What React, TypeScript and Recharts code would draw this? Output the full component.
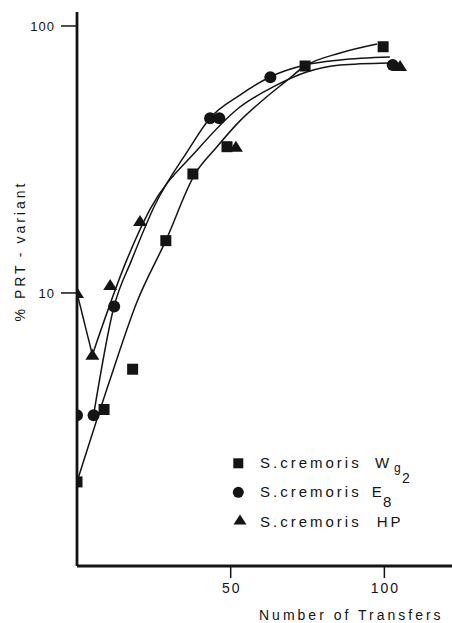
import React from "react";
import { ComposedChart, Line, Scatter, XAxis, YAxis, Legend, Label } from "recharts";

const INK = "#141414";
const FONT = '"Liberation Sans", Arial, Helvetica, sans-serif';

// ─── Measured points: number of transfers vs % PRT- variant ──────────────────
const wg2Transfers = [0, 8.8, 18.1, 28.9, 37.7, 48.8, 74.2, 99.6];
const wg2Variant = [1.96, 3.66, 5.18, 15.7, 27.9, 35.3, 70.8, 83.6];

const e8Transfers = [0, 5.4, 12.1, 43.3, 46.3, 62.9, 102.7];
const e8Variant = [3.48, 3.48, 8.9, 45.1, 45.1, 64.3, 71.4];

const hpTransfers = [0, 5.0, 10.8, 20.5, 51.7, 105.1];
const hpVariant = [10, 5.87, 10.7, 18.6, 35.3, 70.8];

// ─── Hand-fitted curves through each strain ──────────────────────────────────
const wg2CurveX = [0, 10.7, 19.5, 29.0, 38.4, 45.2, 53.0, 60.5, 67.7, 74.2, 85.6, 97.6];
const wg2CurveY = [1.96, 4.72, 9.25, 15.8, 27.9, 34.9, 44.1, 52.8, 61.7, 70.8, 79.2, 85.6];

const e8CurveX = [5.4, 12.0, 17.8, 25.4, 36.2, 43.3, 53.0, 62.8, 74.2, 85.6, 101.8];
const e8CurveY = [3.49, 8.86, 13.3, 21.4, 34.3, 45.2, 55.1, 64.4, 71.4, 74.6, 76.5];

const hpCurveX = [0, 5.0, 16.2, 23.7, 39.1, 53.0, 63.8, 74.7, 85.6, 101.2];
const hpCurveY = [10, 5.86, 13.3, 20.5, 34.3, 49.7, 59.1, 67.2, 71.4, 72.7];

const xTicks = [50, 100];
const yTicks = [10, 100];

const toPoints = (xs: number[], ys: number[]) => xs.map((x, i) => ({ x, y: ys[i] }));

const wg2Points = toPoints(wg2Transfers, wg2Variant);
const e8Points = toPoints(e8Transfers, e8Variant);
const hpPoints = toPoints(hpTransfers, hpVariant);

const wg2Curve = toPoints(wg2CurveX, wg2CurveY);
const e8Curve = toPoints(e8CurveX, e8CurveY);
const hpCurve = toPoints(hpCurveX, hpCurveY);
// HP drops straight to its minimum, then rises smoothly
const hpDrop = hpCurve.slice(0, 2);
const hpRise = hpCurve.slice(1);

// ─── Marker shapes ───────────────────────────────────────────────────────────
const SquareMark = ({ cx, cy }: any) => (
  <rect x={cx - 5.5} y={cy - 5.5} width={11} height={11} fill={INK} />
);
const CircleMark = ({ cx, cy }: any) => <circle cx={cx} cy={cy} r={6} fill={INK} />;
const TriangleMark = ({ cx, cy }: any) => (
  <polygon
    points={`${cx},${cy - 6} ${cx + 7},${cy + 5} ${cx - 7},${cy + 5}`}
    fill={INK}
  />
);

// ─── Axis ticks ──────────────────────────────────────────────────────────────
const YTick = ({ x, y, payload }: any) => (
  <text
    x={x}
    y={y}
    dy="0.36em"
    textAnchor="end"
    fontFamily={FONT}
    fontSize={13}
    letterSpacing={1}
    fill={INK}
  >
    {payload.value}
  </text>
);

const XTick = ({ x, y, payload }: any) => (
  <text
    x={x + 1}
    y={y}
    dy="0.71em"
    textAnchor="middle"
    fontFamily={FONT}
    fontSize={14}
    letterSpacing={2}
    fill={INK}
  >
    {payload.value}
  </text>
);

// ─── Legend ──────────────────────────────────────────────────────────────────
function StrainLegend() {
  return (
    <svg width={210} height={90} style={{ display: "block", overflow: "visible" }}>
      <g fill={INK}>
        <rect x={7.3} y={10.3} width={10} height={10} />
        <circle cx={12.3} cy={44.3} r={5.5} />
        <polygon points="14,66.5 20.5,76.5 7.5,76.5" />
      </g>
      <g fontFamily={FONT} fontSize={15} letterSpacing={3} fill={INK}>
        <text x={34} y={20.3}>
          S.cremoris
          <tspan x={149}>W</tspan>
          <tspan x={168} dy={3.5} fontSize={12} letterSpacing={0}>
            g
          </tspan>
          <tspan x={176} dy={11} fontSize={14} letterSpacing={0}>
            2
          </tspan>
        </text>
        <text x={34} y={49.3}>
          S.cremoris
          <tspan x={145.7}>E</tspan>
          <tspan x={157} dy={10} fontSize={15} letterSpacing={0}>
            8
          </tspan>
        </text>
        <text x={34} y={78.7}>
          S.cremoris
          <tspan x={150.7}>HP</tspan>
        </text>
      </g>
    </svg>
  );
}

const curveStyle = {
  stroke: INK,
  strokeWidth: 1.5,
  dot: false,
  activeDot: false,
  isAnimationActive: false,
} as const;

export default function App() {
  return (
    <div style={{ position: "absolute", left: 0, top: 0, background: "#fff" }}>
      <ComposedChart width={452} height={623} margin={{ top: 12, right: 0, bottom: 0, left: 0 }}>
        <XAxis
          type="number"
          dataKey="x"
          domain={[0, 122]}
          ticks={xTicks}
          allowDataOverflow
          height={57}
          axisLine={{ stroke: INK, strokeWidth: 2.8 }}
          tickLine={{ stroke: INK, strokeWidth: 1.5 }}
          tickSize={12}
          tickMargin={5}
          tick={<XTick />}
        >
          <Label
            content={() => (
              <text
                x={259}
                y={620}
                fontFamily={FONT}
                fontSize={14}
                letterSpacing={3}
                fill={INK}
              >
                Number of Transfers
              </text>
            )}
          />
        </XAxis>
        <YAxis
          type="number"
          dataKey="y"
          scale="log"
          domain={[0.949, 112.8]}
          ticks={yTicks}
          allowDataOverflow
          width={77}
          axisLine={{ stroke: INK, strokeWidth: 2.8 }}
          tickLine={{ stroke: INK, strokeWidth: 1.5 }}
          tickSize={16}
          tickMargin={6}
          tick={<YTick />}
        >
          <Label
            content={() => (
              <text
                x={25}
                y={251}
                transform="rotate(-90, 25, 251)"
                textAnchor="middle"
                fontFamily={FONT}
                fontSize={14}
                letterSpacing={3}
                fill={INK}
              >
                % PRT
                <tspan dx={6}>-</tspan>
                <tspan dx={-1}> variant</tspan>
              </text>
            )}
          />
        </YAxis>

        <Line data={wg2Curve} dataKey="y" type="monotone" {...curveStyle} />
        <Line data={e8Curve} dataKey="y" type="monotone" {...curveStyle} />
        <Line data={hpDrop} dataKey="y" type="linear" {...curveStyle} />
        <Line data={hpRise} dataKey="y" type="monotone" {...curveStyle} />

        <Scatter data={wg2Points} dataKey="y" shape={<SquareMark />} isAnimationActive={false} />
        <Scatter data={e8Points} dataKey="y" shape={<CircleMark />} isAnimationActive={false} />
        <Scatter data={hpPoints} dataKey="y" shape={<TriangleMark />} isAnimationActive={false} />

        <Legend
          layout="vertical"
          align="center"
          verticalAlign="middle"
          content={() => <StrainLegend />}
          wrapperStyle={{ left: 226, top: 448, width: 210, height: 90 }}
        />
      </ComposedChart>
    </div>
  );
}
